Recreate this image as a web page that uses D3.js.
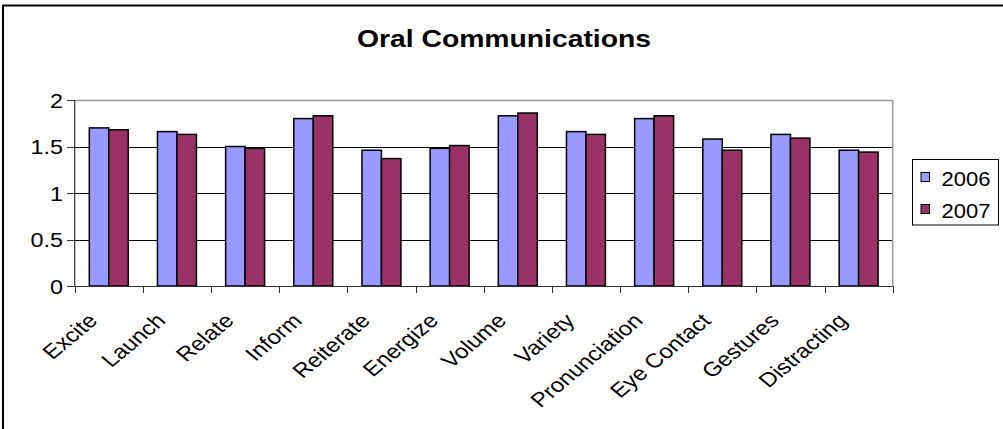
<!DOCTYPE html>
<html>
<head>
<meta charset="utf-8">
<script src="https://cdn.jsdelivr.net/npm/d3@7"></script>
<style>
  html, body { margin: 0; padding: 0; background: #fff; }
  svg { display: block; font-family: "Liberation Sans", Arial, sans-serif; }
</style>
</head>
<body>
<svg id="chart" width="1003" height="429"></svg>
<script>
// Oral Communications ratings by category, 2006 vs 2007
const categories = ["Excite", "Launch", "Relate", "Inform", "Reiterate", "Energize",
  "Volume", "Variety", "Pronunciation", "Eye Contact", "Gestures", "Distracting"];
const seriesNames = ["2006", "2007"];
const values2006 = [1.70, 1.66, 1.50, 1.80, 1.46, 1.48, 1.83, 1.66, 1.80, 1.58, 1.63, 1.46];
const values2007 = [1.68, 1.63, 1.48, 1.83, 1.37, 1.51, 1.86, 1.63, 1.83, 1.46, 1.59, 1.44];
const yTicks = [0, 0.5, 1, 1.5, 2];
const colors = ["#9999FF", "#993366"];

const svg = d3.select("#chart");
const stretch = 1.2; // wide text rendering

// outer chart frame
svg.append("rect")
  .attr("x", 3).attr("y", 5.5)
  .attr("width", 1010).attr("height", 440)
  .attr("fill", "none").attr("stroke", "#000").attr("stroke-width", 2);

const plot = { left: 74.7, right: 892.7, top: 100, bottom: 286 };

const x = d3.scaleBand().domain(categories).range([plot.left, plot.right]).padding(0);
const xSub = d3.scaleBand().domain(seriesNames).range([0, x.bandwidth()])
  .paddingInner(0).paddingOuter(0.75);
const y = d3.scaleLinear().domain([0, 2]).range([plot.bottom, plot.top]);

// gridlines
svg.append("g").selectAll("line")
  .data(yTicks.filter(t => t > 0 && t < 2))
  .join("line")
  .attr("x1", plot.left).attr("x2", plot.right)
  .attr("y1", d => Math.round(y(d)) + 0.5).attr("y2", d => Math.round(y(d)) + 0.5)
  .attr("stroke", "#000").attr("stroke-width", 1);

// plot area border (top and right)
svg.append("path")
  .attr("d", `M${plot.left},${plot.top + 0.5}H${plot.right}V${plot.bottom}`)
  .attr("fill", "none").attr("stroke", "#999").attr("stroke-width", 1.5);

// bars
const rows = categories.map((c, i) => ({ cat: c, vals: [values2006[i], values2007[i]] }));
const groups = svg.append("g").selectAll("g")
  .data(rows).join("g")
  .attr("transform", d => `translate(${x(d.cat)},0)`);
groups.selectAll("rect")
  .data(d => d.vals.map((v, k) => ({ key: seriesNames[k], v, k })))
  .join("rect")
  .attr("x", d => xSub(d.key))
  .attr("y", d => y(d.v))
  .attr("width", xSub.bandwidth())
  .attr("height", d => y(0) - y(d.v))
  .attr("fill", d => colors[d.k])
  .attr("stroke", "#000").attr("stroke-width", 1.5);

// y axis
const yAxis = svg.append("g");
yAxis.append("line")
  .attr("x1", plot.left).attr("x2", plot.left)
  .attr("y1", plot.top).attr("y2", plot.bottom)
  .attr("stroke", "#333").attr("stroke-width", 1.2);
yAxis.selectAll("line.tick").data(yTicks).join("line").attr("class", "tick")
  .attr("x1", 67).attr("x2", plot.left)
  .attr("y1", d => Math.round(y(d)) + 0.5).attr("y2", d => Math.round(y(d)) + 0.5)
  .attr("stroke", "#333").attr("stroke-width", 1);
yAxis.selectAll("text").data(yTicks).join("text")
  .attr("transform", d => `translate(63,${y(d) + 7.5}) scale(${stretch},1)`)
  .attr("text-anchor", "end")
  .attr("font-size", 19.5)
  .text(d => d3.format("")(d));

// x axis
const xAxis = svg.append("g");
xAxis.append("line")
  .attr("x1", plot.left).attr("x2", plot.right)
  .attr("y1", plot.bottom + 0.5).attr("y2", plot.bottom + 0.5)
  .attr("stroke", "#333").attr("stroke-width", 1.2);
const boundaries = categories.map(c => x(c)).concat([plot.right]);
xAxis.selectAll("line.tick").data(boundaries).join("line").attr("class", "tick")
  .attr("x1", d => Math.round(d) + 0.5).attr("x2", d => Math.round(d) + 0.5)
  .attr("y1", plot.bottom).attr("y2", plot.bottom + 7)
  .attr("stroke", "#333").attr("stroke-width", 1);
xAxis.selectAll("text").data(categories).join("text")
  .attr("transform", d => `translate(${x(d) + x.bandwidth() / 2 - 10},322) scale(${stretch},1) rotate(-45)`)
  .attr("text-anchor", "end")
  .attr("font-size", 20)
  .text(d => d);

// title
svg.append("text")
  .attr("transform", `translate(504,47) scale(1.18,1)`)
  .attr("text-anchor", "middle")
  .attr("font-size", 24).attr("font-weight", "bold")
  .text("Oral Communications");

// legend
const legend = svg.append("g");
legend.append("rect")
  .attr("x", 912.5).attr("y", 159.5).attr("width", 86).attr("height", 65.5)
  .attr("fill", "#fff").attr("stroke", "#000").attr("stroke-width", 1);
const items = legend.selectAll("g.item").data(seriesNames).join("g").attr("class", "item")
  .attr("transform", (d, i) => `translate(0,${i * 32})`);
items.append("rect")
  .attr("x", 921).attr("y", 172.5).attr("width", 8.5).attr("height", 9)
  .attr("fill", (d, i) => colors[i]).attr("stroke", "#000").attr("stroke-width", 1);
items.append("text")
  .attr("transform", `translate(941.5,186) scale(1.1,1)`)
  .attr("font-size", 20)
  .text(d => d);
</script>
</body>
</html>
